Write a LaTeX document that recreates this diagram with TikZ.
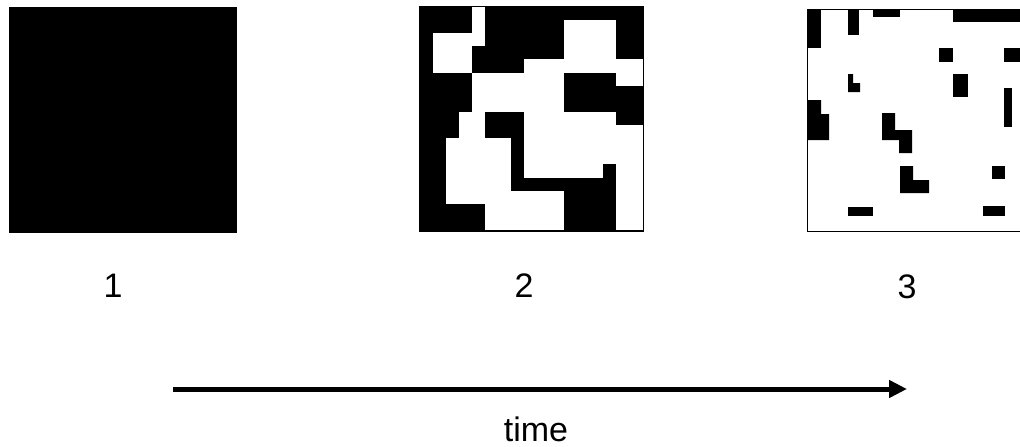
\documentclass[tikz,border=0pt]{standalone}
\usepackage{fontspec}
\setmainfont{Liberation Sans}
\usetikzlibrary{arrows.meta}

\tikzset{
  panel/.style={draw, line width=1pt, inner sep=0pt},
  num/.style={font=\fontsize{34}{40}\selectfont, inner sep=0pt},
}

\begin{document}
\begin{tikzpicture}[x=1pt, y=-1pt, >={Triangle[length=18pt,width=17pt]}]
  \useasboundingbox (0,0) rectangle (1020,447);
  \clip (0,0) rectangle (1020,447);

  % state 1: all black
  \node[panel, fill=black, minimum width=227pt, minimum height=225pt] (first) at (122.5,119.5) {};

  % state 2: 17x17 cells, white patches on black
  \node[panel, fill=black, minimum width=223pt, minimum height=223.5pt] (second) at (531,118.75) {};
  \begin{scope}[shift={(419.5,7)}, x=13.12pt, y=-13.12pt]
    \foreach \a/\b/\c/\d in {4/0/5/3, 1/2/4/5, 11/1/15/4, 8/4/17/5, 15/4/17/6,
                             4/5/11/8, 3/8/5/10, 8/8/14/13, 14/8/15/12, 15/9/17/17,
                             2/10/5/15, 5/10/7/14, 5/14/11/17}
      \fill[white] (\a,\b) rectangle (\c,\d);
  \end{scope}
  \draw[line width=1pt] (second.north west) rectangle (second.south east);

  % state 3: few black spots left
  \node[panel, fill=white, minimum width=223.5pt, minimum height=222pt] (third) at (919.25,120) {};
  \fill (807,9) rectangle (821,48);
  \fill (848,9) rectangle (859,35);
  \fill (873,9) rectangle (900,17);
  \fill (953,9) rectangle (1031,22);
  \fill (939,48) rectangle (953,62);
  \fill (1004,48) rectangle (1031,62);
  \fill (953,74) rectangle (968,97);
  \fill (1004,88) rectangle (1012,127);
  \fill (848,74) -- (853,74) -- (853,83) -- (860,83) -- (860,92) -- (848,92) -- cycle;
  \fill (807,100) -- (821,100) -- (821,114) -- (829,114) -- (829,140) -- (807,140) -- cycle;
  \fill (882,113) -- (895,113) -- (895,130) -- (912,130) -- (912,153) -- (899,153) -- (899,140) -- (882,140) -- cycle;
  \fill (900,166) -- (913,166) -- (913,180) -- (929,180) -- (929,193) -- (900,193) -- cycle;
  \fill (992,166) rectangle (1005,179);
  \fill (848,207) rectangle (873,216);
  \fill (983,206) rectangle (1005,216);

  \node[num] (one) at (113,286) {1};
  \node[num] (two) at (524,286) {2};
  \node[num] (three) at (907,287) {3};

  \coordinate (tstart) at (173,389);
  \coordinate (tend) at (907,389);
  \draw[->, line width=5pt] (tstart) -- (tend);
  \node[num, anchor=base] (time) at (536,441) {time};
\end{tikzpicture}
\end{document}
